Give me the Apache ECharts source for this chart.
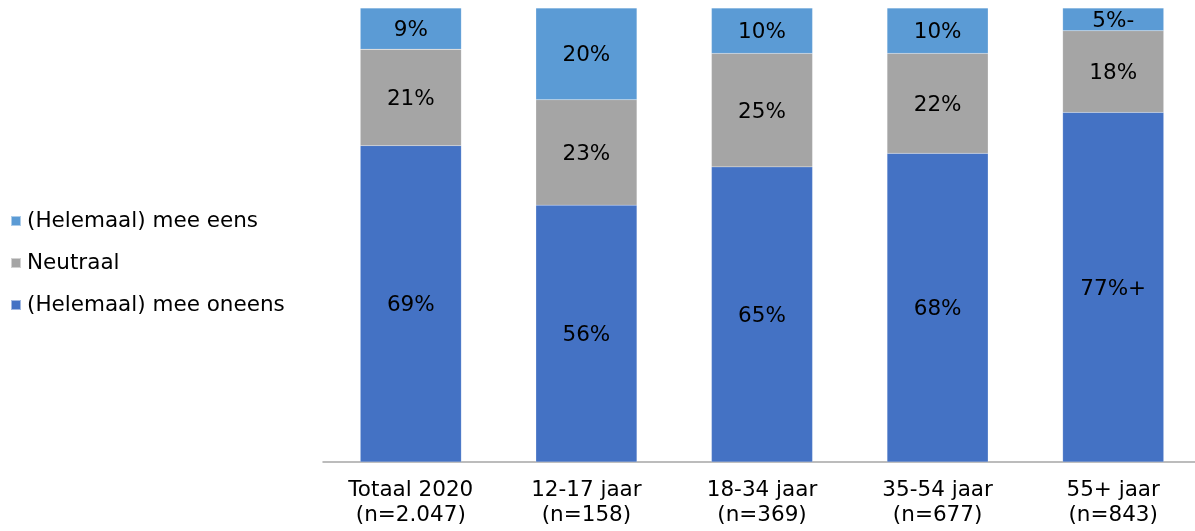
<!DOCTYPE html>
<html>
<head>
<meta charset="utf-8">
<script src="https://cdn.jsdelivr.net/npm/echarts@6/dist/echarts.min.js"></script>
<style>html,body{margin:0;padding:0;background:#fff;overflow:hidden}#c{width:1201px;height:531px}</style>
</head>
<body>
<div id="c"></div>
<script>
var categories = ['Totaal 2020\n(n=2.047)', '12-17 jaar\n(n=158)', '18-34 jaar\n(n=369)', '35-54 jaar\n(n=677)', '55+ jaar\n(n=843)'];
var oneens = [69, 56, 65, 68, 77];
var neutraal = [21, 23, 25, 22, 18];
var eens = [9, 20, 10, 10, 5];
var oneensSign = ['', '', '', '', '+'];
var neutraalSign = ['', '', '', '', ''];
var eensSign = ['', '', '', '', '-'];
var seriesNames = ['(Helemaal) mee oneens', 'Neutraal', '(Helemaal) mee eens'];
var colors = ['#4472C4', '#A5A5A5', '#5B9BD5'];

var totals = categories.map(function (c, i) { return oneens[i] + neutraal[i] + eens[i]; });
function build(vals, signs) {
  return vals.map(function (v, i) {
    return { value: v / totals[i] * 100, raw: v, sign: signs[i] };
  });
}
var font = 'DejaVu Sans, Verdana, sans-serif';
var fs = 21.5;
function mk(name, vals, signs, color) {
  return {
    name: name, type: 'bar', stack: 'total', barWidth: 101,
    data: build(vals, signs),
    itemStyle: { color: color, borderColor: 'rgba(255,255,255,0.5)', borderWidth: 0.3 },
    label: {
      show: true, position: 'inside', offset: [0, 2], color: '#000', fontSize: fs, fontFamily: font,
      formatter: function (p) { return p.data.raw + '%' + p.data.sign; }
    }
  };
}
var chart = echarts.init(document.getElementById('c'));
chart.setOption({
  animation: false,
  textStyle: { fontFamily: font },
  legend: {
    orient: 'vertical', left: 10, top: 210, padding: 0,
    data: [seriesNames[2], seriesNames[1], seriesNames[0]],
    itemWidth: 10, itemHeight: 10, itemGap: 20, icon: 'rect',
    textStyle: { fontSize: fs, color: '#000', fontFamily: font, padding: [0, 0, 0, 1] }
  },
  grid: { left: 323, right: 0, top: 8, bottom: 69, containLabel: false },
  xAxis: {
    type: 'category', data: categories,
    axisLine: { lineStyle: { color: '#A6A6A6', width: 1.5 } },
    axisTick: { show: false },
    axisLabel: { fontSize: fs, color: '#000', fontFamily: font, lineHeight: 25, margin: 16, interval: 0 }
  },
  yAxis: { type: 'value', min: 0, max: 100, show: false, splitLine: { show: false } },
  series: [
    mk(seriesNames[0], oneens, oneensSign, colors[0]),
    mk(seriesNames[1], neutraal, neutraalSign, colors[1]),
    mk(seriesNames[2], eens, eensSign, colors[2])
  ]
});
</script>
</body>
</html>
